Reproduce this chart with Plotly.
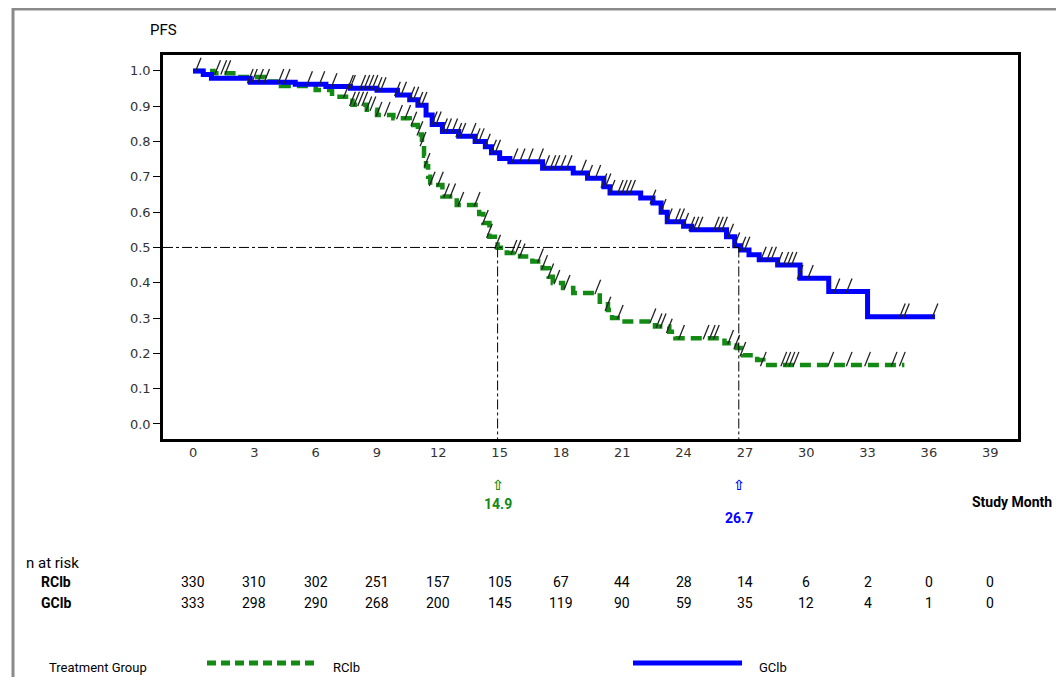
import plotly.graph_objects as go

# ---------------- data ----------------
# GClb (blue) Kaplan-Meier step points
gclb_time = [0, 0.5, 0.9, 2.8, 5.0, 6.5, 7.7, 9.0, 10.0, 10.6, 11.0, 11.4, 11.7, 12.2, 13.0,
             13.8, 14.3, 14.6, 15.0, 15.5, 17.1, 18.6, 19.3, 20.1, 20.4, 21.9, 22.5, 22.9,
             23.2, 24.0, 24.4, 26.1, 26.5, 26.8, 27.2, 27.7, 28.6, 29.7, 31.1, 33.0]
gclb_surv = [1.0, 0.99, 0.979, 0.968, 0.962, 0.956, 0.951, 0.945, 0.932, 0.918, 0.903, 0.875,
             0.848, 0.828, 0.815, 0.80, 0.785, 0.768, 0.752, 0.743, 0.724, 0.711, 0.696, 0.672,
             0.654, 0.64, 0.626, 0.60, 0.573, 0.56, 0.55, 0.53, 0.505, 0.493, 0.479, 0.465,
             0.45, 0.413, 0.375, 0.304]
gclb_end = 36.3
gclb_censor = [0.25, 2.8, 3.0, 3.3, 3.6, 4.3, 4.6, 5.7, 6.3, 6.9, 7.7, 7.8, 8.3, 8.5, 8.7, 8.9,
               9.1, 9.3, 10.0, 10.3, 10.7, 10.9, 11.1, 11.3, 11.8, 12.0, 12.3, 12.5, 12.8,
               13.0, 13.2, 13.7, 13.9, 14.1, 14.4, 14.7, 14.9, 15.75, 16.1, 16.5, 17.0, 17.3,
               17.6, 17.8, 18.1, 18.4, 19.1, 19.4, 19.8, 20.1, 20.3, 20.5, 20.9, 21.1, 21.3,
               21.5, 22.5, 23.0, 23.3, 23.7, 23.9, 24.1, 24.4, 24.6, 24.8, 25.6, 25.8, 26.0,
               26.3, 26.6, 26.9, 27.1, 27.9, 28.2, 28.4, 28.7, 29.0, 29.2, 29.4, 29.7, 30.2,
               31.5, 32.1, 34.7, 34.9, 36.3]

# RClb (green) Kaplan-Meier step points
rclb_time = [0, 1.0, 2.2, 3.5, 4.3, 6.0, 6.8, 7.8, 8.5, 9.0, 9.8, 10.6, 11.0, 11.2, 11.3, 11.4,
             11.5, 11.6, 12.2, 12.9, 14.0, 14.2, 14.5, 14.9, 15.35, 16.0, 16.6, 17.1, 17.4,
             17.6, 18.1, 18.6, 19.9, 20.3, 20.5, 21.0, 22.6, 23.3, 23.6, 26.0, 26.6, 26.9,
             27.6, 27.9]
rclb_surv = [1.0, 0.993, 0.983, 0.97, 0.957, 0.946, 0.927, 0.904, 0.89, 0.875, 0.866, 0.847,
             0.82, 0.79, 0.76, 0.73, 0.70, 0.677, 0.644, 0.62, 0.595, 0.569, 0.53, 0.499,
             0.484, 0.474, 0.46, 0.441, 0.417, 0.399, 0.385, 0.371, 0.346, 0.323, 0.30, 0.29,
             0.276, 0.261, 0.243, 0.229, 0.215, 0.195, 0.181, 0.167]
rclb_end = 34.8
rclb_censor = [1.2, 1.5, 1.7, 7.5, 7.8, 8.0, 8.2, 8.4, 8.6, 8.8, 9.1, 9.5, 10.1, 10.5, 10.8,
               11.1, 11.25, 11.45, 11.7, 12.1, 12.4, 12.7, 13.1, 13.9, 14.3, 14.5, 14.9, 15.7,
               15.9, 16.1, 17.0, 17.2, 17.5, 17.8, 18.3, 19.8, 20.3, 20.9, 22.5, 22.8, 23.0,
               23.3, 23.9, 25.1, 25.4, 25.6, 26.3, 26.6, 26.9, 27.9, 28.9, 29.1, 29.3, 29.5,
               31.2, 32.1, 33.0, 34.3, 34.7]

medians = {"RClb": 14.9, "GClb": 26.7}

risk_times = [0, 3, 6, 9, 12, 15, 18, 21, 24, 27, 30, 33, 36, 39]
risk_rclb = [330, 310, 302, 251, 157, 105, 67, 44, 28, 14, 6, 2, 0, 0]
risk_gclb = [333, 298, 290, 268, 200, 145, 119, 90, 59, 35, 12, 4, 1, 0]

y_ticks = [0.0, 0.1, 0.2, 0.3, 0.4, 0.5, 0.6, 0.7, 0.8, 0.9, 1.0]

# ---------------- styling ----------------
GREEN = "#138a13"
BLUE = "#0000ff"
FONT = "Roboto, Liberation Sans, sans-serif"
TICKFONT = "DejaVu Sans, sans-serif"

# page body has an 8px margin: the figure is drawn 8px in from the window corner
OFF = 8
W, H = 1064 - OFF, 677 - OFF
# plot area in window pixels
L, R, T, B = 163, 1018, 55, 439
XR = [-1.47, 40.36]
YR = [-0.0425, 1.045]


def px(x):
    return (x - L) / (R - L)


def py(y):
    return (B - y) / (B - T)


def surv_at(times, surv, t):
    s = surv[0]
    for ti, si in zip(times, surv):
        if ti <= t:
            s = si
        else:
            break
    return s


fig = go.Figure()

# RClb curve
fig.add_trace(go.Scatter(
    x=rclb_time + [rclb_end], y=rclb_surv + [rclb_surv[-1]],
    mode="lines", line=dict(color=GREEN, width=4.5, dash="11px,6px", shape="hv"),
    name="RClb", showlegend=False, hoverinfo="skip"))
# GClb curve
fig.add_trace(go.Scatter(
    x=gclb_time + [gclb_end], y=gclb_surv + [gclb_surv[-1]],
    mode="lines", line=dict(color=BLUE, width=5, shape="hv"),
    name="GClb", showlegend=False, hoverinfo="skip"))

# censoring marks (drawn as slashes sitting on the curves)
off = 0.017
for times, surv, cens in [(rclb_time, rclb_surv, rclb_censor), (gclb_time, gclb_surv, gclb_censor)]:
    fig.add_trace(go.Scatter(
        x=cens, y=[surv_at(times, surv, t) + off for t in cens],
        mode="markers",
        marker=dict(symbol="line-ns", size=11, angle=22,
                    line=dict(color="#222222", width=1.3)),
        showlegend=False, hoverinfo="skip"))

# median reference lines
dd = "10px,3px,3px,3px"
fig.add_shape(type="line", xref="x", yref="y", x0=XR[0], x1=medians["GClb"], y0=0.5, y1=0.5,
              line=dict(color="black", width=1, dash=dd))
for m in medians.values():
    fig.add_shape(type="line", xref="x", yref="y", x0=m, x1=m, y0=0.5, y1=YR[0],
                  line=dict(color="black", width=1, dash=dd))

# outer gray frame
fig.add_shape(type="line", xref="paper", yref="paper", x0=px(13), x1=px(13), y0=py(8), y1=py(700),
              line=dict(color="#8a8a8a", width=3))
fig.add_shape(type="line", xref="paper", yref="paper", x0=px(12), x1=px(1100), y0=py(9), y1=py(9),
              line=dict(color="#8a8a8a", width=3))

ann = []
ann.append(dict(text="PFS", x=px(148), y=py(30), xref="paper", yref="paper", xanchor="left",
                yanchor="middle", showarrow=False, font=dict(family=FONT, size=15, color="black")))
ann.append(dict(text="<b>Study Month</b>", x=px(970), y=py(502), xref="paper", yref="paper",
                xanchor="left", yanchor="middle", showarrow=False,
                font=dict(family=FONT, size=14, color="black")))
# median labels
for (name, m), col, ylab in [(("RClb", medians["RClb"]), GREEN, 504), (("GClb", medians["GClb"]), BLUE, 518)]:
    ann.append(dict(text="<b>⇧</b>", x=m, y=py(485), xref="x", yref="paper", xanchor="center",
                    yanchor="middle", showarrow=False, font=dict(family=TICKFONT, size=14, color=col)))
    ann.append(dict(text="<b>%.1f</b>" % m, x=m, y=py(ylab), xref="x", yref="paper",
                    xanchor="center", yanchor="middle", showarrow=False,
                    font=dict(family=FONT, size=14, color=col)))
# n at risk table
ann.append(dict(text="n at risk", x=px(24), y=py(563), xref="paper", yref="paper", xanchor="left",
                yanchor="middle", showarrow=False, font=dict(family=FONT, size=15, color="black")))
for lab, vals, yy in [("RClb", risk_rclb, 582), ("GClb", risk_gclb, 603)]:
    ann.append(dict(text="<b>%s</b>" % lab, x=px(39), y=py(yy), xref="paper", yref="paper",
                    xanchor="left", yanchor="middle", showarrow=False,
                    font=dict(family=FONT, size=14, color="black")))
    for t, v in zip(risk_times, vals):
        ann.append(dict(text=str(v), x=t, y=py(yy), xref="x", yref="paper", xanchor="center",
                        yanchor="middle", showarrow=False,
                        font=dict(family=FONT, size=14, color="black")))
# legend
ann.append(dict(text="Treatment Group", x=px(47), y=py(667), xref="paper", yref="paper",
                xanchor="left", yanchor="middle", showarrow=False,
                font=dict(family=FONT, size=13, color="black")))
ann.append(dict(text="RClb", x=px(331), y=py(667), xref="paper", yref="paper", xanchor="left",
                yanchor="middle", showarrow=False, font=dict(family=FONT, size=13, color="black")))
ann.append(dict(text="GClb", x=px(757), y=py(667), xref="paper", yref="paper", xanchor="left",
                yanchor="middle", showarrow=False, font=dict(family=FONT, size=13, color="black")))
fig.add_shape(type="line", xref="paper", yref="paper", x0=px(207), x1=px(316), y0=py(663), y1=py(663),
              line=dict(color=GREEN, width=5, dash="9px,5px"))
fig.add_shape(type="line", xref="paper", yref="paper", x0=px(633), x1=px(742), y0=py(663), y1=py(663),
              line=dict(color=BLUE, width=5))

fig.update_layout(
    width=W, height=H, autosize=False,
    margin=dict(l=L - OFF, r=W - (R - OFF), t=T - OFF, b=H - (B - OFF), pad=0),
    paper_bgcolor="white", plot_bgcolor="white",
    annotations=ann, showlegend=False,
    xaxis=dict(range=XR, tickmode="array", tickvals=risk_times, ticks="", showgrid=False,
               zeroline=False, showline=True, linecolor="black", linewidth=2.5, mirror=True,
               tickfont=dict(family=TICKFONT, size=13, color="#333333")),
    yaxis=dict(range=YR, tickmode="array", tickvals=y_ticks,
               ticktext=["%.1f" % v for v in y_ticks], ticks="outside", ticklen=7,
               tickcolor="black", tickwidth=1, showgrid=False, zeroline=False, showline=True,
               linecolor="black", linewidth=2.5, mirror=True,
               tickfont=dict(family=TICKFONT, size=13, color="#333333")),
)

fig.write_html("out.html")
